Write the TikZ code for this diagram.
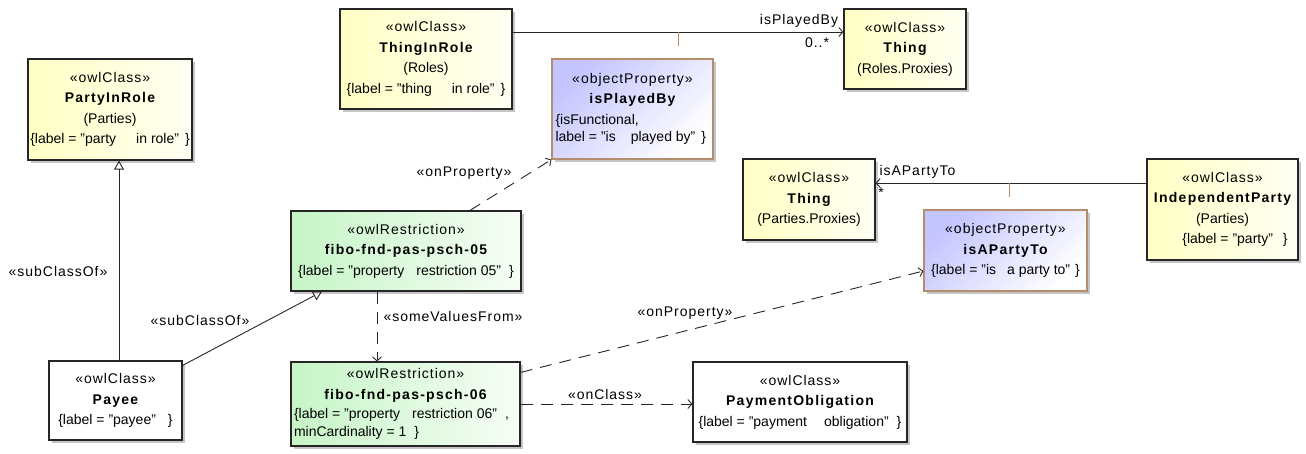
\documentclass[tikz,border=0pt]{standalone}
\usepackage{fontspec}
\setmainfont{Liberation Sans}
\newfontfamily\stereofont[LetterSpace=7]{Liberation Sans}
\newfontfamily\namefont[LetterSpace=9]{Liberation Sans}
\usepackage{tikz}
\usetikzlibrary{arrows.meta}
\usetikzlibrary{shadows}
\usetikzlibrary{calc}
\usetikzlibrary{positioning}
\usepackage{xcolor}

\definecolor{clsyellow}{HTML}{FFFFC4}
\definecolor{resgreen}{HTML}{C6F5C6}
\definecolor{propblue}{HTML}{C4C4FF}
\definecolor{propedge}{HTML}{B48E6C}

\begin{document}
\begin{tikzpicture}[x=1pt, y=-1pt, font=\fontsize{14}{20.5}\selectfont]
				\tikzstyle{umlbox}=[draw=black!85, line width=1.2pt, inner sep=2pt, align=center, drop shadow={shadow xshift=3pt, shadow yshift=-3pt, fill=black!45, opacity=0.5}]
				\tikzstyle{clsnode}=[umlbox, left color=clsyellow, right color=white!80!clsyellow]
				\tikzstyle{plainnode}=[umlbox, fill=white]
				\tikzstyle{resnode}=[umlbox, left color=resgreen, right color=white!85!resgreen]
				\tikzstyle{propnode}=[umlbox, draw=propedge, left color=propblue, right color=white, shading angle=45]
				\tikzstyle{lbl}=[font=\fontsize{14}{20.5}\selectfont\stereofont]
				
				\tikzstyle{gen}=[draw=black!85, line width=0.9pt, -{Triangle[open, length=9pt, width=10pt]}]
				\tikzstyle{assoc}=[draw=black!85, line width=0.9pt, -{Straight Barb[length=4pt, width=9pt]}]
				\tikzstyle{dep}=[draw=black!85, line width=0.9pt, dash pattern=on 12pt off 8pt, -{Straight Barb[length=4pt, width=9pt]}]
				\tikzstyle{stub}=[draw=propedge, line width=1pt]
				
				\useasboundingbox (0,0) rectangle (1306,453);
				
				% classes
				\node (pir) at (110,109.5) [clsnode, minimum width=164pt, minimum height=101pt] {{\stereofont «owlClass»}\\{\namefont\bfseries PartyInRole}\\(Parties)\\\{label = "party\hspace{20pt}in role"\hspace{6pt}\}};
				\node (tir) at (426,59) [clsnode, minimum width=172pt, minimum height=100pt] {{\stereofont «owlClass»}\\{\namefont\bfseries ThingInRole}\\(Roles)\\\{label = "thing\hspace{20pt}in role"\hspace{6pt}\}};
				\node (thr) at (905,49) [clsnode, minimum width=122pt, minimum height=80pt] {{\stereofont «owlClass»}\\{\namefont\bfseries Thing}\\(Roles.Proxies)};
				\node (thp) at (809,199.5) [clsnode, minimum width=132pt, minimum height=81pt] {{\stereofont «owlClass»}\\{\namefont\bfseries Thing}\\(Parties.Proxies)};
				\node (ip) at (1222.5,209.5) [clsnode, minimum width=151pt, minimum height=101pt] {{\stereofont «owlClass»}\\{\namefont\bfseries IndependentParty}\\(Parties)\\\hspace*{25pt}\{label = "party"\hspace{10pt}\}};
				\node (payee) at (115.5,400.5) [plainnode, minimum width=133pt, minimum height=79pt] {{\stereofont «owlClass»}\\{\namefont\bfseries Payee}\\\{label = "payee"\hspace{12pt}\}};
				\node (po) at (800,402) [plainnode, minimum width=214pt, minimum height=80pt] {{\stereofont «owlClass»}\\{\namefont\bfseries PaymentObligation}\\\{label = "payment\hspace{17pt}obligation"\hspace{8pt}\}};
				
				% properties
				\node (pb) at (632.5,109) [propnode, minimum width=161pt, minimum height=100pt] {{\stereofont «objectProperty»}\\{\namefont\bfseries isPlayedBy}\\\makebox[154pt][l]{\{isFunctional,}\\[-3pt]\makebox[154pt][l]{label = "is\hspace{15pt}played by"\hspace{6pt}\}}};
				\node (apt) at (1005.5,250.5) [propnode, minimum width=163pt, minimum height=81pt] {{\stereofont «objectProperty»}\\{\namefont\bfseries isAPartyTo}\\\{label = "is\hspace{11pt}a party to"\hspace{5pt}\}};
				
				% restrictions
				\node (r05) at (406,251) [resnode, minimum width=230pt, minimum height=80pt] {{\stereofont «owlRestriction»}\\{\namefont\bfseries fibo-fnd-pas-psch-05}\\\{label = "property\hspace{12pt}restriction 05"\hspace{8pt}\}};
				\node (r06) at (405.5,404) [resnode, minimum width=229pt, minimum height=84pt] {{\stereofont «owlRestriction»}\\{\namefont\bfseries fibo-fnd-pas-psch-06}\\[-1pt]\makebox[223pt][l]{\{label = "property\hspace{12pt}restriction 06"\hspace{8pt},}\\[-3pt]\makebox[223pt][l]{minCardinality = 1\hspace{8pt}\}}};
				
				% generalizations
				\draw[gen] ([xshift=3.5pt]payee.north) -- ([xshift=3.5pt]payee.north |- pir.south);
				\draw[gen] ([yshift=-5pt]payee.north east) -- ([xshift=-84pt]r05.south);
				\node (s0) at (58,271) [lbl] {«subClassOf»};
				\node (s1) at (200,320) [lbl] {«subClassOf»};
				
				% associations
				\draw[assoc] ([yshift=27pt]tir.east) -- ([yshift=27pt]tir.east -| thr.west);
				\coordinate (pbstub) at (678,32);
				\draw[stub] (pbstub) -- ++(0,14);
				\node (ipb) at (799,21) [lbl] {isPlayedBy};
				\node (m0) at (817,43) [lbl] {0..*};
				
				\draw[assoc] ([yshift=26.5pt]ip.west) -- ([yshift=26.5pt]ip.west -| thp.east);
				\coordinate (aptstub) at (1009,183);
				\draw[stub] (aptstub) -- ++(0,14);
				\node (iapt) at (876,172) [lbl, anchor=west] {isAPartyTo};
				\node (m1) at (881,193) [lbl] {*};
				
				% dependencies
				\draw[dep] ([xshift=64pt]r05.north) -- (pb.south west);
				\node (op0) at (464,173) [lbl] {«onProperty»};
				\draw[dep] ([xshift=-29pt]r05.south) -- ([xshift=-29pt]r05.south |- r06.north);
				\node (svf) at (380,316) [lbl, anchor=west] {«someValuesFrom»};
				\draw[dep] (r06.east) -- (r06.east -| po.west);
				\node (oc) at (605,394) [lbl] {«onClass»};
				\draw[dep] ([yshift=-11pt]r06.north east) -- ([yshift=-20.5pt]apt.west);
				\node (op1) at (685,313) [lbl] {«onProperty»};
\end{tikzpicture}
\end{document}
